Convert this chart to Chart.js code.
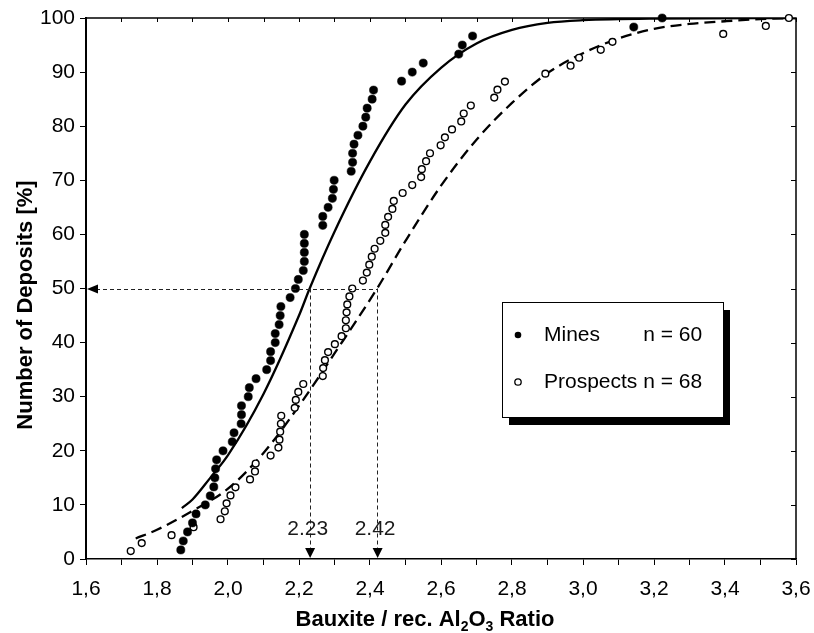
<!DOCTYPE html>
<html>
<head>
<meta charset="utf-8">
<title>Bauxite / rec. Al2O3 Ratio</title>
<script src="https://cdn.jsdelivr.net/npm/chart.js@4.4.1/dist/chart.umd.min.js"></script>
<style>
    html, body { margin: 0; padding: 0; background: #fff; }
    canvas { display: block; }
</style>
</head>
<body>
<canvas id="chart" width="814" height="633"></canvas>
<script>
// ── Cumulative distributions: mines vs. prospects ───────────────────

const MINES_X = [
    1.867, 1.874, 1.886, 1.900, 1.910, 1.936, 1.950, 1.960, 1.963, 1.965,
    1.968, 1.986, 2.012, 2.017, 2.037, 2.038, 2.038, 2.057, 2.060, 2.079,
    2.109, 2.120, 2.120, 2.133, 2.133, 2.144, 2.147, 2.149, 2.175, 2.190,
    2.198, 2.212, 2.215, 2.215, 2.215, 2.215, 2.267, 2.267, 2.282, 2.294,
    2.297, 2.299, 2.347, 2.351, 2.351, 2.355, 2.366, 2.380, 2.388, 2.392,
    2.406, 2.410, 2.489, 2.519, 2.550, 2.650, 2.660, 2.689, 3.143, 3.223
];
const MINES_PCT = [
    1.67, 3.33, 5.00, 6.67, 8.33, 10.00, 11.67, 13.33, 15.00, 16.67,
    18.33, 20.00, 21.67, 23.33, 25.00, 26.67, 28.33, 30.00, 31.67, 33.33,
    35.00, 36.67, 38.33, 40.00, 41.67, 43.33, 45.00, 46.67, 48.33, 50.00,
    51.67, 53.33, 55.00, 56.67, 58.33, 60.00, 61.67, 63.33, 65.00, 66.67,
    68.33, 70.00, 71.67, 73.33, 75.00, 76.67, 78.33, 80.00, 81.67, 83.33,
    85.00, 86.67, 88.33, 90.00, 91.67, 93.33, 95.00, 96.67, 98.33, 100.00
];

const PROSPECTS_X = [
    1.726, 1.757, 1.841, 1.903, 1.979, 1.991, 1.996, 2.007, 2.021, 2.062,
    2.076, 2.078, 2.120, 2.142, 2.145, 2.147, 2.149, 2.150, 2.188, 2.191,
    2.198, 2.212, 2.267, 2.268, 2.273, 2.282, 2.301, 2.320, 2.332, 2.332,
    2.334, 2.336, 2.342, 2.350, 2.380, 2.391, 2.398, 2.405, 2.413, 2.429,
    2.443, 2.443, 2.451, 2.463, 2.467, 2.492, 2.519, 2.544, 2.546, 2.558,
    2.569, 2.599, 2.611, 2.631, 2.657, 2.664, 2.684, 2.750, 2.759, 2.780,
    2.894, 2.965, 2.989, 3.050, 3.083, 3.395, 3.515, 3.580
];
const PROSPECTS_PCT = [
    1.47, 2.94, 4.41, 5.88, 7.35, 8.82, 10.29, 11.76, 13.24, 14.71,
    16.18, 17.65, 19.12, 20.59, 22.06, 23.53, 25.00, 26.47, 27.94, 29.41,
    30.88, 32.35, 33.82, 35.29, 36.76, 38.24, 39.71, 41.18, 42.65, 44.12,
    45.59, 47.06, 48.53, 50.00, 51.47, 52.94, 54.41, 55.88, 57.35, 58.82,
    60.29, 61.76, 63.24, 64.71, 66.18, 67.65, 69.12, 70.59, 72.06, 73.53,
    75.00, 76.47, 77.94, 79.41, 80.88, 82.35, 83.82, 85.29, 86.76, 88.24,
    89.71, 91.18, 92.65, 94.12, 95.59, 97.06, 98.53, 100.00
];

// fitted distribution curves
const MINES_FIT_X   = [1.87, 1.90, 1.95, 2.00, 2.10, 2.20, 2.23, 2.30, 2.40, 2.50, 2.60, 2.70, 2.80, 2.90, 3.00, 3.20, 3.60];
const MINES_FIT_PCT = [9.4, 11.0, 15.0, 19.2, 30.5, 45.0, 50.0, 60.5, 73.5, 84.0, 90.8, 95.3, 97.8, 99.1, 99.6, 99.9, 100];

const PROSPECTS_FIT_X   = [1.74, 1.80, 1.90, 2.00, 2.10, 2.20, 2.30, 2.42, 2.50, 2.60, 2.70, 2.80, 2.90, 3.00, 3.10, 3.20, 3.30, 3.40, 3.50, 3.60];
const PROSPECTS_FIT_PCT = [3.8, 5.4, 8.9, 13.0, 19.6, 28.3, 38.0, 50.0, 58.8, 69.0, 77.5, 84.3, 89.8, 93.5, 96.2, 98.0, 98.9, 99.4, 99.8, 100];

const SERIES_NAMES  = ['Mines', 'Prospects'];
const SERIES_COUNTS = [60, 68];

// medians read at the 50 % level
const MEDIAN_LEVEL  = 50;
const MEDIANS       = [2.23, 2.42];

const X_TICKS  = [1.6, 1.7, 1.8, 1.9, 2.0, 2.1, 2.2, 2.3, 2.4, 2.5, 2.6, 2.7, 2.8, 2.9, 3.0, 3.1, 3.2, 3.3, 3.4, 3.5, 3.6];
const X_LABELS = ['1,6', '', '1,8', '', '2,0', '', '2,2', '', '2,4', '', '2,6', '', '2,8', '', '3,0', '', '3,2', '', '3,4', '', '3,6'];
const Y_TICKS  = [0, 10, 20, 30, 40, 50, 60, 70, 80, 90, 100];

const FONT = "'Liberation Sans', Arial, Helvetica, sans-serif";

const toPoints = (xs, ys) => xs.map((x, i) => ({ x: x, y: ys[i] }));

// ── Plot frame: top/right border with inward ticks ──────────────────

const framePlugin = {
    id: 'frame',
    beforeDatasetsDraw(chart) {
        const { ctx, chartArea: a, scales: { x, y } } = chart;
        ctx.save();
        ctx.strokeStyle = '#000';
        ctx.lineWidth = 1.5;
        ctx.beginPath();
        ctx.moveTo(a.left, a.top);
        ctx.lineTo(a.right, a.top);
        ctx.lineTo(a.right, a.bottom);
        ctx.stroke();

        ctx.lineWidth = 1;
        ctx.beginPath();
        x.ticks.forEach(t => {
            const px = Math.round(x.getPixelForValue(t.value)) + 0.5;
            ctx.moveTo(px, a.top);
            ctx.lineTo(px, a.top + 4);
        });
        y.ticks.forEach(t => {
            const py = Math.round(y.getPixelForValue(t.value)) + 0.5;
            ctx.moveTo(a.right, py);
            ctx.lineTo(a.right - 5, py);
        });
        ctx.stroke();
        ctx.restore();
    }
};

// ── Median guides: dashed lines, arrows and value labels ────────────

const medianPlugin = {
    id: 'medianGuides',
    afterDatasetsDraw(chart) {
        const { ctx, scales: { x, y } } = chart;
        const yMid  = y.getPixelForValue(MEDIAN_LEVEL);
        const yBase = y.getPixelForValue(0);
        const xLeft = x.getPixelForValue(x.min);
        const xs = MEDIANS.map(m => x.getPixelForValue(m));

        ctx.save();
        ctx.strokeStyle = '#222';
        ctx.fillStyle = '#000';
        ctx.lineWidth = 1;
        ctx.setLineDash([4, 3]);

        ctx.beginPath();
        ctx.moveTo(xLeft + 10, Math.round(yMid) + 0.5);
        ctx.lineTo(Math.max(...xs), Math.round(yMid) + 0.5);
        xs.forEach(px => {
            ctx.moveTo(Math.round(px) + 0.5, yMid);
            ctx.lineTo(Math.round(px) + 0.5, yBase - 10);
        });
        ctx.stroke();
        ctx.setLineDash([]);

        // arrow pointing at the y axis
        ctx.beginPath();
        ctx.moveTo(xLeft + 1, yMid + 0.5);
        ctx.lineTo(xLeft + 12, yMid - 4);
        ctx.lineTo(xLeft + 12, yMid + 5);
        ctx.closePath();
        ctx.fill();

        // arrows pointing down at the x axis
        xs.forEach(px => {
            ctx.beginPath();
            ctx.moveTo(px + 0.5, yBase - 1);
            ctx.lineTo(px - 4.5, yBase - 11);
            ctx.lineTo(px + 5.5, yBase - 11);
            ctx.closePath();
            ctx.fill();
        });

        ctx.font = `21px ${FONT}`;
        ctx.fillStyle = '#1a1a1a';
        ctx.textAlign = 'center';
        ctx.textBaseline = 'middle';
        MEDIANS.forEach((m, i) => {
            ctx.fillText(m.toFixed(2), xs[i] - 2, yBase - 30);
        });
        ctx.restore();
    }
};

// ── Axis titles (x title carries subscripts) and legend box ─────────

const decorPlugin = {
    id: 'decor',
    afterDraw(chart) {
        const { ctx } = chart;
        ctx.save();
        ctx.fillStyle = '#000';

        // x title: Bauxite / rec. Al2O3 Ratio
        const big = `bold 22px ${FONT}`;
        const small = `bold 14px ${FONT}`;
        const parts = [
            ['Bauxite / rec. Al', big, 0],
            ['2', small, 5],
            ['O', big, 0],
            ['3', small, 5],
            [' Ratio', big, 0]
        ];
        let total = 0;
        parts.forEach(p => { ctx.font = p[1]; total += ctx.measureText(p[0]).width; });
        let cx = 425 - total / 2;
        ctx.textAlign = 'left';
        ctx.textBaseline = 'alphabetic';
        parts.forEach(p => {
            ctx.font = p[1];
            ctx.fillText(p[0], cx, 626 + p[2]);
            cx += ctx.measureText(p[0]).width;
        });

        // y title
        ctx.save();
        ctx.translate(32, 305);
        ctx.rotate(-Math.PI / 2);
        ctx.font = big;
        ctx.textAlign = 'center';
        ctx.fillText('Number of Deposits [%]', 0, 0);
        ctx.restore();

        // legend with drop shadow
        const bx = 502, by = 302, bw = 221, bh = 115;
        ctx.fillStyle = '#000';
        ctx.fillRect(bx + 7, by + 8, bw, bh);
        ctx.fillStyle = '#fff';
        ctx.fillRect(bx, by, bw, bh);
        ctx.strokeStyle = '#000';
        ctx.lineWidth = 1;
        ctx.strokeRect(bx + 0.5, by + 0.5, bw, bh);

        const rows = [335, 382];
        ctx.font = `21px ${FONT}`;
        ctx.textBaseline = 'middle';
        const second = `${SERIES_NAMES[1]} n = ${SERIES_COUNTS[1]}`;
        const rightEdge = 544 + ctx.measureText(second).width;

        ctx.beginPath();
        ctx.arc(518, rows[0], 3.3, 0, Math.PI * 2);
        ctx.fillStyle = '#000';
        ctx.fill();
        ctx.beginPath();
        ctx.arc(518, rows[1], 3.2, 0, Math.PI * 2);
        ctx.fillStyle = '#fff';
        ctx.fill();
        ctx.lineWidth = 1.3;
        ctx.stroke();

        ctx.fillStyle = '#000';
        ctx.textAlign = 'left';
        ctx.fillText(SERIES_NAMES[0], 544, rows[0]);
        ctx.fillText(second, 544, rows[1]);
        ctx.textAlign = 'right';
        ctx.fillText(`n = ${SERIES_COUNTS[0]}`, rightEdge, rows[0]);

        ctx.restore();
    }
};

Chart.defaults.font.family = FONT;
Chart.defaults.color = '#000';

const axisGrid = {
    display: true,
    drawOnChartArea: false,
    drawTicks: true,
    tickLength: 6,
    color: '#000',
    lineWidth: 1
};

new Chart(document.getElementById('chart'), {
    type: 'scatter',
    data: {
        datasets: [
            {
                label: SERIES_NAMES[0],
                data: toPoints(MINES_X, MINES_PCT),
                pointStyle: 'circle',
                pointRadius: 4.1,
                pointBackgroundColor: '#000',
                pointBorderColor: '#000',
                pointBorderWidth: 0.5,
                clip: false
            },
            {
                label: SERIES_NAMES[1],
                data: toPoints(PROSPECTS_X, PROSPECTS_PCT),
                pointStyle: 'circle',
                pointRadius: 3.4,
                pointBackgroundColor: '#fff',
                pointBorderColor: '#000',
                pointBorderWidth: 1.4,
                clip: false
            },
            {
                label: SERIES_NAMES[0] + ' fit',
                data: toPoints(MINES_FIT_X, MINES_FIT_PCT),
                showLine: true,
                pointRadius: 0,
                borderColor: '#000',
                borderWidth: 2.3,
                cubicInterpolationMode: 'monotone'
            },
            {
                label: SERIES_NAMES[1] + ' fit',
                data: toPoints(PROSPECTS_FIT_X, PROSPECTS_FIT_PCT),
                showLine: true,
                pointRadius: 0,
                borderColor: '#000',
                borderWidth: 2.3,
                borderDash: [11, 6],
                cubicInterpolationMode: 'monotone'
            }
        ]
    },
    options: {
        responsive: false,
        animation: false,
        layout: { padding: { top: 18, right: 18, left: 0, bottom: 0 } },
        plugins: {
            legend: { display: false },
            tooltip: { enabled: false }
        },
        scales: {
            x: {
                type: 'linear',
                min: 1.6,
                max: 3.6,
                // fixed axis band; end labels may overhang into the page margin
                afterFit: s => { s.height = 74; s.paddingLeft = 0; s.paddingRight = 0; },
                afterBuildTicks: s => { s.ticks = X_TICKS.map(v => ({ value: v })); },
                grid: axisGrid,
                border: { display: true, color: '#000', width: 1.5 },
                ticks: {
                    autoSkip: false,
                    maxRotation: 0,
                    padding: 12,
                    font: { size: 21 },
                    callback: (v, i) => X_LABELS[i]
                }
            },
            y: {
                type: 'linear',
                min: 0,
                max: 100,
                afterFit: s => { s.width = 86; s.paddingTop = 0; s.paddingBottom = 0; },
                afterBuildTicks: s => { s.ticks = Y_TICKS.map(v => ({ value: v })); },
                grid: axisGrid,
                border: { display: true, color: '#000', width: 2 },
                ticks: {
                    autoSkip: false,
                    padding: 5,
                    font: { size: 21 },
                    callback: v => String(v)
                }
            }
        }
    },
    plugins: [framePlugin, medianPlugin, decorPlugin]
});
</script>
</body>
</html>
